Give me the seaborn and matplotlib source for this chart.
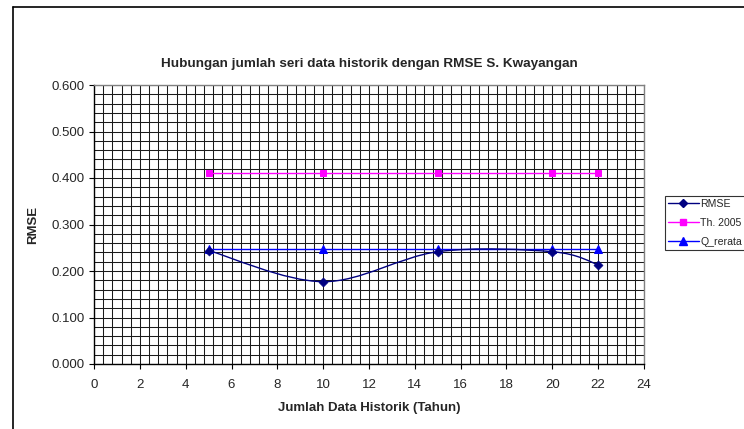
import numpy as np
import pandas as pd
import matplotlib
matplotlib.use("Agg")
import matplotlib.pyplot as plt
import seaborn as sns
from matplotlib.path import Path
from matplotlib.patches import PathPatch
from matplotlib.lines import Line2D
from matplotlib.ticker import MultipleLocator

# ---- data ----
years = [5, 10, 15, 20, 22]
rmse = [0.244, 0.177, 0.2415, 0.2415, 0.2135]
th2005 = [0.411, 0.411, 0.411, 0.411, 0.411]
q_rerata = [0.248, 0.248, 0.248, 0.248, 0.248]

title = "Hubungan jumlah seri data historik dengan RMSE S. Kwayangan"
xlabel = "Jumlah Data Historik (Tahun)"
ylabel = "RMSE"
series_names = ["RMSE", "Th. 2005", "Q_rerata"]

sns.set_style("white")
plt.rcParams["font.family"] = ["Liberation Sans", "DejaVu Sans"]

fig = plt.figure(figsize=(7.44, 4.29), dpi=100)
ax = fig.add_axes([94 / 744, 1 - 364 / 429, 550 / 744, 279 / 429])

df = pd.DataFrame({"x": years, "RMSE": rmse, "Th. 2005": th2005, "Q_rerata": q_rerata})

c_rmse = "#000080"
c_th = "#FF00FF"
c_q = "#0000FF"

# grid
ax.set_xlim(0, 24)
ax.set_ylim(0, 0.6)
ax.xaxis.set_major_locator(MultipleLocator(2))
ax.xaxis.set_minor_locator(MultipleLocator(0.4))
ax.yaxis.set_major_locator(MultipleLocator(0.1))
ax.yaxis.set_minor_locator(MultipleLocator(0.02))
ax.grid(True, which="both", color="#1a1a1a", linewidth=0.75)
ax.set_axisbelow(True)

# straight series
sns.lineplot(data=df, x="x", y="Th. 2005", ax=ax, color=c_th, linewidth=1.0,
             marker="s", markersize=5, markeredgecolor=c_th, zorder=3)
sns.lineplot(data=df, x="x", y="Q_rerata", ax=ax, color=c_q, linewidth=1.0,
             marker="^", markersize=6, markeredgecolor=c_q, zorder=4)

# smoothed RMSE line (Excel-style Bezier through the data points)
pts = np.column_stack([years, rmse]).astype(float)
verts = [tuple(pts[0])]
codes = [Path.MOVETO]
n = len(pts)
for i in range(n - 1):
    p0 = pts[i - 1] if i > 0 else pts[i]
    p1 = pts[i]
    p2 = pts[i + 1]
    p3 = pts[i + 2] if i + 2 < n else pts[i + 1]
    c1 = p1 + (p2 - p0) / 6.0
    c2 = p2 - (p3 - p1) / 6.0
    verts += [tuple(c1), tuple(c2), tuple(p2)]
    codes += [Path.CURVE4] * 3
ax.add_patch(PathPatch(Path(verts, codes), facecolor="none", edgecolor=c_rmse,
                       linewidth=1.0, zorder=5))
sns.scatterplot(data=df, x="x", y="RMSE", ax=ax, color=c_rmse, marker="D", s=22,
                edgecolor=c_rmse, zorder=6)

# axes styling
for s in ax.spines.values():
    s.set_color("#808080")
    s.set_linewidth(1.0)
ax.spines["left"].set_color("#000000")
ax.spines["bottom"].set_color("#000000")
ax.tick_params(axis="both", which="major", direction="out", length=3.5, width=0.8,
               color="black", labelsize=9.5, bottom=True, left=True)
ax.tick_params(axis="x", which="major", pad=7)
ax.tick_params(axis="y", which="major", pad=3)
ax.tick_params(axis="both", which="minor", length=0)
ax.set_yticks(np.arange(0, 0.61, 0.1))
ax.set_yticklabels([f"{v:.3f}" for v in np.arange(0, 0.61, 0.1)])
ax.set_xticks(range(0, 25, 2))

ax.set_xlabel(xlabel, fontsize=9.5, fontweight="bold", labelpad=8)
ax.set_ylabel(ylabel, fontsize=9.5, fontweight="bold", labelpad=9)
ax.set_title(title, fontsize=9.7, fontweight="bold", pad=13)

# legend
handles = [
    Line2D([], [], color=c_rmse, marker="D", markersize=4, linewidth=1.0),
    Line2D([], [], color=c_th, marker="s", markersize=5, linewidth=1.0),
    Line2D([], [], color=c_q, marker="^", markersize=6, linewidth=1.0),
]
leg = fig.legend(handles, series_names, loc="upper left",
                 bbox_to_anchor=(665 / 744, 1 - 196 / 429), fontsize=7.6,
                 frameon=True, fancybox=False, edgecolor="black",
                 handlelength=2.9, handletextpad=0.15, labelspacing=0.85,
                 borderpad=0.3, borderaxespad=0)
leg.get_frame().set_linewidth(0.8)

# chart area border (left & top visible)
fig.add_artist(Line2D([13.3 / 744, 13.3 / 744], [0, 1 - 6.5 / 429],
                      transform=fig.transFigure, color="black", linewidth=1.2))
fig.add_artist(Line2D([13.3 / 744, 1], [1 - 6.5 / 429, 1 - 6.5 / 429],
                      transform=fig.transFigure, color="black", linewidth=1.2))

fig.savefig("out.png", dpi=100)
